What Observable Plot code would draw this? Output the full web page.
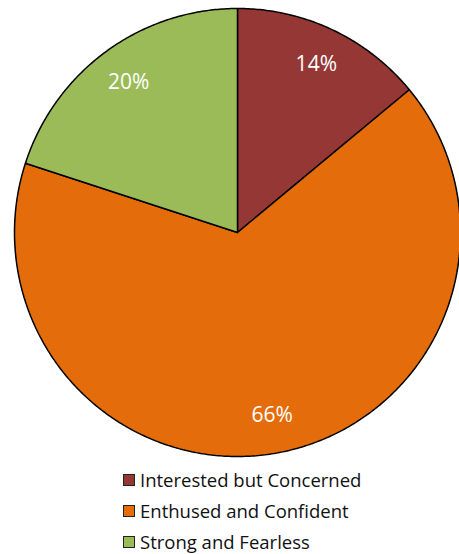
<!DOCTYPE html>
<html><head><meta charset="utf-8">
<script src="https://cdn.jsdelivr.net/npm/d3@7"></script>
<script src="https://cdn.jsdelivr.net/npm/@observablehq/plot@0.6"></script>
<style>
body{margin:0;background:#fff;font-family:"Open Sans",sans-serif;overflow:hidden;}
#chart{width:459px;}
#legend{margin:0;padding:0 0 0 123px;}
.row{height:31px;line-height:31px;font-size:18.5px;color:#111;display:flex;align-items:center;white-space:nowrap;}
.sw{width:10px;height:10px;border:1px solid #222;margin-right:5px;box-sizing:content-box;}
</style></head><body><div id="chart"></div><script>
const categories = ["Interested but Concerned", "Enthused and Confident", "Strong and Fearless"];
const shares = [14, 66, 20];
const labels = ["14%", "66%", "20%"];
const colors = ["#953735", "#E46C0A", "#9BBB59"];

const arcs = d3.pie().sort(null).value(d => d)(shares);
const poly = [];
const lab = [];
arcs.forEach((a, i) => {
  const c = categories[i];
  poly.push({c, x: 0, y: 0});
  const n = Math.max(2, Math.ceil((a.endAngle - a.startAngle) / 0.01));
  for (let k = 0; k <= n; k++) {
    const t = a.startAngle + (a.endAngle - a.startAngle) * k / n;
    poly.push({c, x: Math.sin(t), y: Math.cos(t)});
  }
  poly.push({c, x: 0, y: 0});
  const m = (a.startAngle + a.endAngle) / 2;
  lab.push({c, x: 0.83 * Math.sin(m), y: 0.83 * Math.cos(m), t: labels[i]});
});

const plot = Plot.plot({
  width: 459, height: 464,
  margin: 0,
  x: {domain: [-1, 1], range: [14, 460], axis: null},
  y: {domain: [-1, 1], range: [456, 8], axis: null},
  color: {domain: categories, range: colors},
  style: {background: "#fff", overflow: "visible"},
  marks: [
    Plot.line(poly, {x: "x", y: "y", z: "c", fill: "c", stroke: "#000", strokeWidth: 1.5, strokeLinejoin: "miter"}),
    Plot.text(lab, {x: "x", y: "y", text: "t", fill: "#fff", fontSize: 21, fontFamily: "'Open Sans', sans-serif"})
  ]
});
document.getElementById("chart").appendChild(plot);

const leg = document.createElement("div");
leg.id = "legend";
categories.forEach((c, i) => {
  const r = document.createElement("div");
  r.className = "row";
  const s = document.createElement("span");
  s.className = "sw";
  s.style.background = colors[i];
  r.appendChild(s);
  r.appendChild(document.createTextNode(c));
  leg.appendChild(r);
});
document.getElementById("chart").appendChild(leg);
</script></body></html>
